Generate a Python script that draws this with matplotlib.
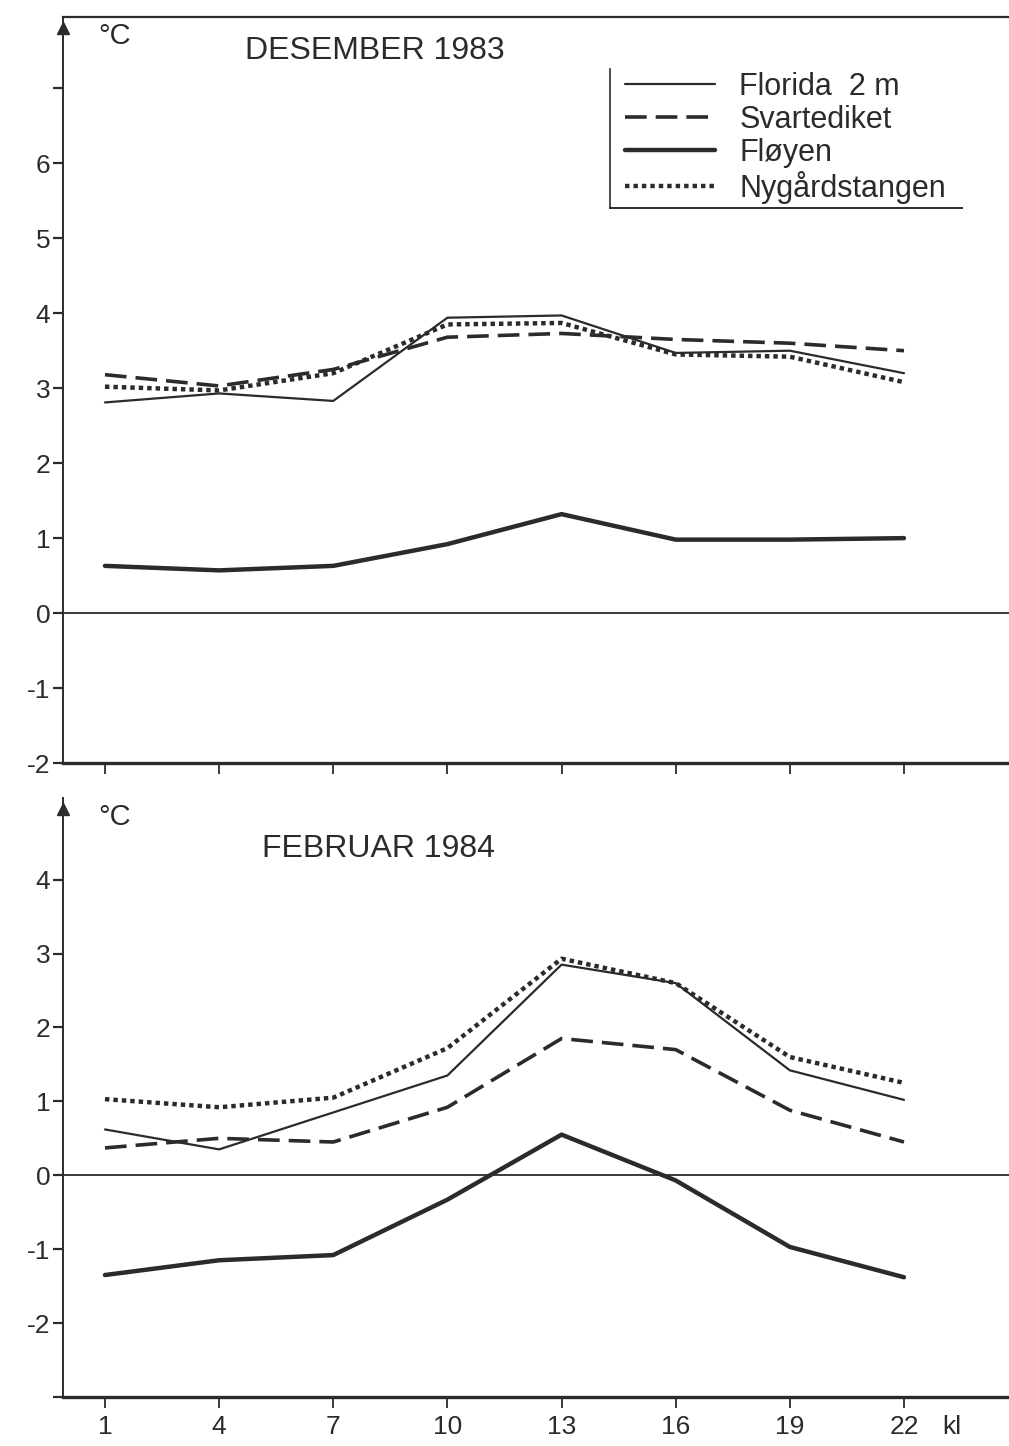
import matplotlib
matplotlib.use("Agg")
from matplotlib import pyplot as plt

plt.rcParams['font.family'] = ['Liberation Sans', 'DejaVu Sans']

# Data (hour of day, kl)
hours = [1, 4, 7, 10, 13, 16, 19, 22]
series = ["Florida  2 m", "Svartediket", "Fløyen", "Nygårdstangen"]

# DESEMBER 1983
dec_florida = [2.81, 2.93, 2.83, 3.94, 3.97, 3.47, 3.50, 3.20]
dec_svartediket = [3.18, 3.03, 3.25, 3.68, 3.73, 3.65, 3.60, 3.50]
dec_floyen = [0.63, 0.57, 0.63, 0.92, 1.32, 0.98, 0.98, 1.00]
dec_nygard = [3.02, 2.97, 3.20, 3.85, 3.87, 3.45, 3.42, 3.08]

# FEBRUAR 1984
feb_florida = [0.62, 0.35, 0.85, 1.35, 2.85, 2.60, 1.42, 1.02]
feb_svartediket = [0.37, 0.50, 0.45, 0.92, 1.85, 1.70, 0.88, 0.45]
feb_floyen = [-1.35, -1.15, -1.08, -0.33, 0.55, -0.07, -0.97, -1.38]
feb_nygard = [1.03, 0.92, 1.05, 1.72, 2.93, 2.60, 1.60, 1.25]

ink = "#2b2b2b"
styles = [
    dict(color=ink, lw=1.6, ls="-"),
    dict(color=ink, lw=2.6, ls=(0, (6, 2.5))),
    dict(color=ink, lw=3.2, ls="-"),
    dict(color=ink, lw=3.2, ls=(0, (1.0, 0.9))),
]

fig = plt.figure(figsize=(10.09, 14.46), dpi=100)
ax1 = fig.add_axes([0.0624, 0.4723, 0.9376, 0.5159])
ax2 = fig.add_axes([0.0624, 0.0339, 0.9376, 0.4140])

xlim = (-0.104, 24.76)


def style_axes(ax, ylim, yticks, ylabels, xlabels):
    ax.set_xlim(*xlim)
    ax.set_ylim(*ylim)
    ax.axhline(0, color=ink, lw=1.3, zorder=1)
    ax.spines["right"].set_visible(False)
    for s in ax.spines.values():
        s.set_color(ink)
    ax.spines["left"].set_linewidth(1.4)
    ax.spines["bottom"].set_linewidth(2.4)
    ax.spines["top"].set_linewidth(1.6)
    ax.set_yticks(yticks)
    ax.set_yticklabels(ylabels, fontsize=19, color=ink)
    ax.set_xticks(hours)
    ax.set_xticklabels(xlabels, fontsize=19, color=ink)
    ax.tick_params(axis="y", direction="out", length=7, width=1.6, pad=2, colors=ink)
    ax.tick_params(axis="x", direction="out", length=8, width=1.3, pad=5, colors=ink)
    # arrow head on y axis
    ax.plot([0], [ylim[1] - 0.15], marker="^", ms=9, color=ink,
            transform=ax.get_yaxis_transform(), clip_on=False)
    ax.text(0.037, ylim[1] - 0.25, "°C", fontsize=21, color=ink,
            transform=ax.get_yaxis_transform(), va="center", ha="left")


# Top panel
style_axes(ax1, (-2, 7.95), range(-2, 8),
           ["-2", "-1", "0", "1", "2", "3", "4", "5", "6", ""],
           [""] * len(hours))
dec_data = [dec_florida, dec_svartediket, dec_floyen, dec_nygard]
for name, vals, st in zip(series, dec_data, styles):
    ax1.plot(hours, vals, label=name, solid_capstyle="round", **st)
ax1.text(4.68, 7.5, "DESEMBER 1983", fontsize=23, color=ink, va="center")

leg = ax1.legend(loc="upper left", bbox_to_anchor=(0.594, 0.927), frameon=False,
                 fontsize=22, handlelength=2.95, handletextpad=0.8,
                 labelspacing=0.1, borderpad=0.0, borderaxespad=0.0)
for t in leg.get_texts():
    t.set_color(ink)
ax1.plot([0.578, 0.578], [0.744, 0.93], color=ink, lw=1.2, transform=ax1.transAxes)
ax1.plot([0.578, 0.95], [0.744, 0.744], color=ink, lw=1.4, transform=ax1.transAxes)

# Bottom panel
style_axes(ax2, (-3, 5.1), range(-3, 5),
           ["", "-2", "-1", "0", "1", "2", "3", "4"],
           [str(h) for h in hours])
ax2.spines["top"].set_visible(False)
feb_data = [feb_florida, feb_svartediket, feb_floyen, feb_nygard]
for name, vals, st in zip(series, feb_data, styles):
    ax2.plot(hours, vals, solid_capstyle="round", **st)
ax2.text(5.13, 4.42, "FEBRUAR 1984", fontsize=23, color=ink, va="center")
ax2.annotate("kl", xy=(23.0, -3), xytext=(0, -13), textcoords="offset points",
             fontsize=19, color=ink, va="top", ha="left")

fig.savefig("out.png", dpi=100)
